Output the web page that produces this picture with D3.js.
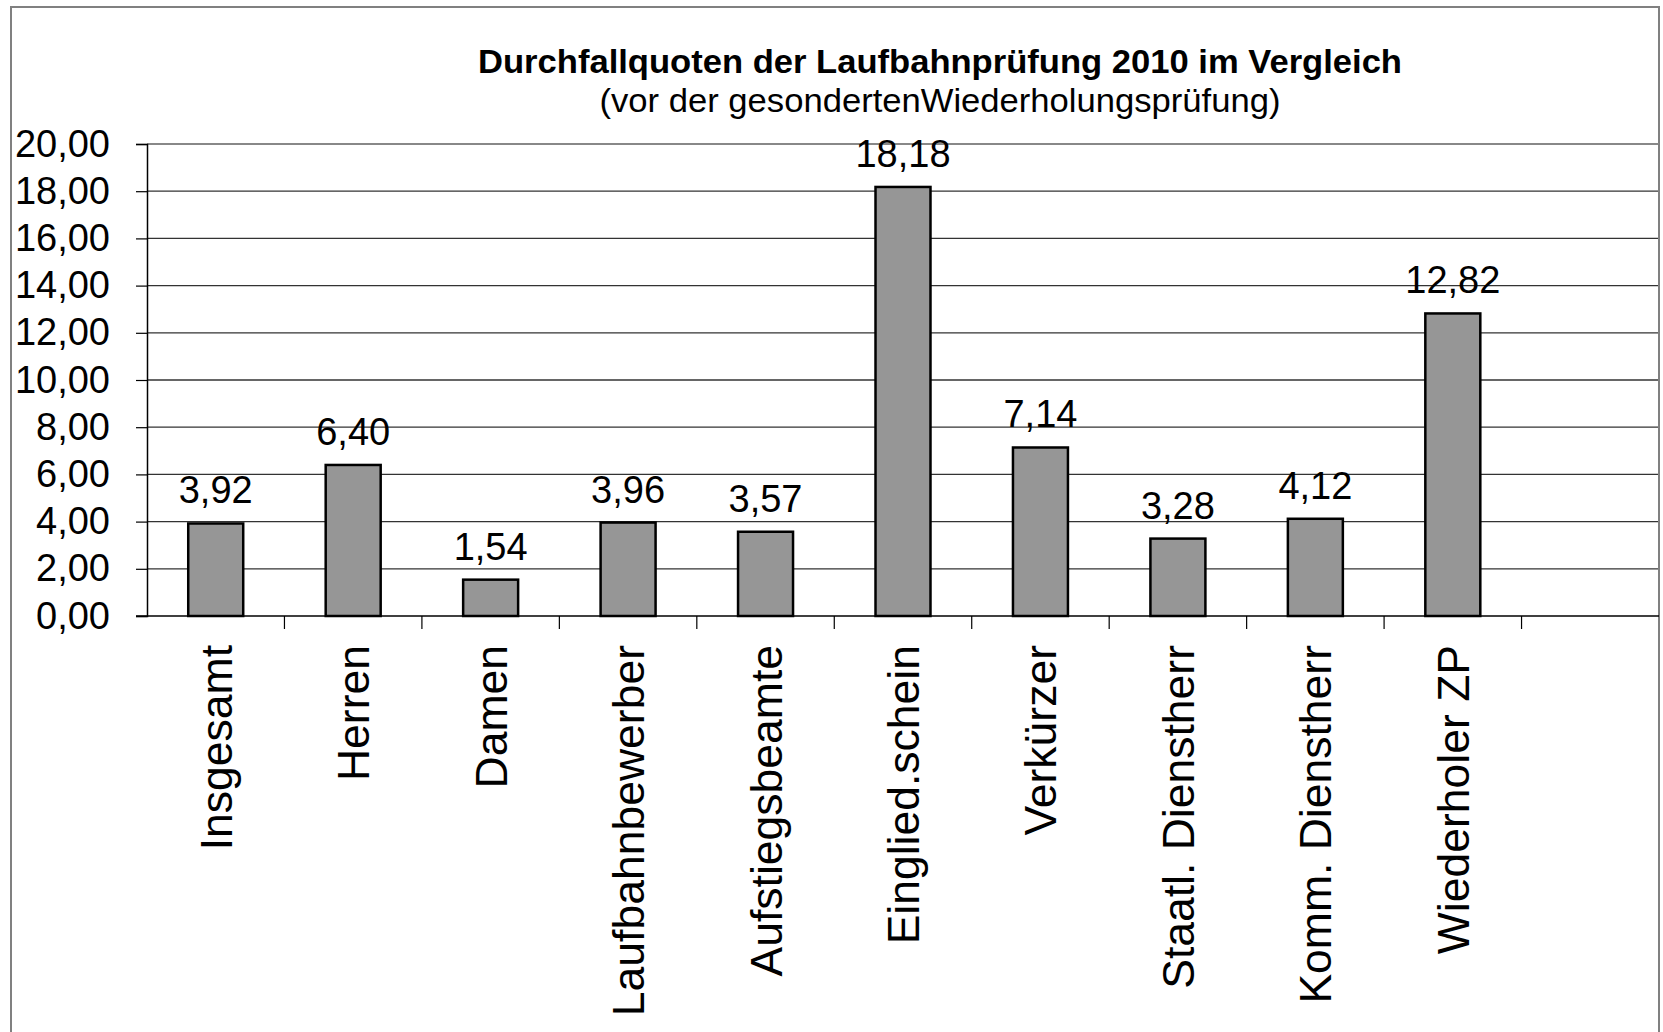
<!DOCTYPE html>
<meta charset="utf-8">
<script src="https://d3js.org/d3.v7.min.js"></script>
<style>
  body { margin: 0; background: #fff; }
  text { font-family: "Liberation Sans", Arial, sans-serif; fill: #000; }
</style>
<div id="chart"></div>
<script>
// Data
var categories = ["Insgesamt", "Herren", "Damen", "Laufbahnbewerber", "Aufstiegsbeamte",
                  "Einglied.schein", "Verkürzer", "Staatl. Dienstherr", "Komm. Dienstherr", "Wiederholer ZP"];
var values = [3.92, 6.40, 1.54, 3.96, 3.57, 18.18, 7.14, 3.28, 4.12, 12.82];
var yTicks = [0, 2, 4, 6, 8, 10, 12, 14, 16, 18, 20];
var title = "Durchfallquoten der Laufbahnprüfung 2010 im Vergleich";
var subtitle = "(vor der gesondertenWiederholungsprüfung)";

// Dims
var W = 1663, H = 1032;
var plot = {left: 147, top: 144, right: 1659, bottom: 616};
var slots = 11; // one empty slot on the right
var step = (plot.right - plot.left) / slots;

var svg = d3.select("#chart").append("svg")
    .attr("width", W)
    .attr("height", H);

svg.append("rect").attr("width", W).attr("height", H).attr("fill", "#fff");

// outer frame
svg.append("rect")
    .attr("x", 11).attr("y", 7)
    .attr("width", 1648).attr("height", H + 20)
    .attr("fill", "none")
    .attr("stroke", "#808080")
    .attr("stroke-width", 2);

var de = d3.formatLocale({decimal: ",", thousands: ".", grouping: [3], currency: ["", " €"]});
var fmt = de.format(".2f");

// Scales
var x = d3.scaleBand()
    .domain(categories)
    .range([plot.left, plot.left + step * categories.length]);

var y = d3.scaleLinear()
    .domain([0, 20])
    .range([plot.bottom, plot.top]);

// Gridlines
svg.append("g")
  .selectAll("line")
  .data(yTicks.filter(function(d) { return d > 0; }))
  .enter().append("line")
    .attr("x1", plot.left).attr("x2", plot.right)
    .attr("y1", function(d) { return y(d); })
    .attr("y2", function(d) { return y(d); })
    .attr("stroke", function(d) { return d == 20 ? "#888" : "#333"; })
    .attr("stroke-width", function(d) { return d == 20 ? 2 : 1.3; });

// plot right border
svg.append("line")
    .attr("x1", plot.right).attr("x2", plot.right)
    .attr("y1", plot.top).attr("y2", plot.bottom)
    .attr("stroke", "#808080").attr("stroke-width", 2);

// Y axis
var yAxis = svg.append("g")
    .attr("transform", "translate(" + plot.left + ",0)")
    .call(d3.axisLeft(y).tickValues(yTicks).tickSize(11).tickPadding(26).tickFormat(fmt));
yAxis.select(".domain").attr("stroke", "#000").attr("stroke-width", 1.5);
yAxis.selectAll(".tick line").attr("stroke", "#000").attr("stroke-width", 1.2);
yAxis.selectAll("text")
    .style("font-size", "38px")
    .attr("fill", "#000");

// X axis line + boundary ticks
svg.append("line")
    .attr("x1", plot.left - 11).attr("x2", plot.right)
    .attr("y1", plot.bottom).attr("y2", plot.bottom)
    .attr("stroke", "#000").attr("stroke-width", 1.5);

var bounds = categories.map(function(c) { return x(c) + x.bandwidth(); });
svg.append("g")
  .selectAll("line")
  .data(bounds)
  .enter().append("line")
    .attr("x1", function(d) { return d; })
    .attr("x2", function(d) { return d; })
    .attr("y1", plot.bottom).attr("y2", plot.bottom + 13)
    .attr("stroke", "#000").attr("stroke-width", 1.2);

// Bars
var barW = x.bandwidth() * 0.4;
svg.selectAll("mybar")
  .data(values)
  .enter()
  .append("rect")
    .attr("x", function(d, i) { return x(categories[i]) + (x.bandwidth() - barW) / 2; })
    .attr("y", function(d) { return y(d); })
    .attr("width", barW)
    .attr("height", function(d) { return plot.bottom - y(d); })
    .attr("fill", "#969696")
    .attr("stroke", "#000")
    .attr("stroke-width", 2.5);

// Value labels
svg.selectAll("vlabel")
  .data(values)
  .enter()
  .append("text")
    .attr("x", function(d, i) { return x(categories[i]) + x.bandwidth() / 2; })
    .attr("y", function(d) { return y(d) - 20; })
    .attr("text-anchor", "middle")
    .style("font-size", "38px")
    .text(function(d) { return fmt(d); });

// Category labels (rotated)
svg.selectAll("clabel")
  .data(categories)
  .enter()
  .append("text")
    .attr("transform", function(d) {
      return "translate(" + (x(d) + x.bandwidth() / 2) + "," + 645 + ")rotate(-90)";
    })
    .attr("dy", "0.36em")
    .attr("text-anchor", "end")
    .style("font-size", "44.5px")
    .text(function(d) { return d; });

// Titles
svg.append("text")
    .attr("x", 940).attr("y", 73)
    .attr("text-anchor", "middle")
    .attr("textLength", 924)
    .attr("lengthAdjust", "spacingAndGlyphs")
    .style("font-size", "33px")
    .style("font-weight", "bold")
    .text(title);

svg.append("text")
    .attr("x", 940).attr("y", 112)
    .attr("text-anchor", "middle")
    .attr("textLength", 681)
    .attr("lengthAdjust", "spacingAndGlyphs")
    .style("font-size", "33px")
    .text(subtitle);
</script>
